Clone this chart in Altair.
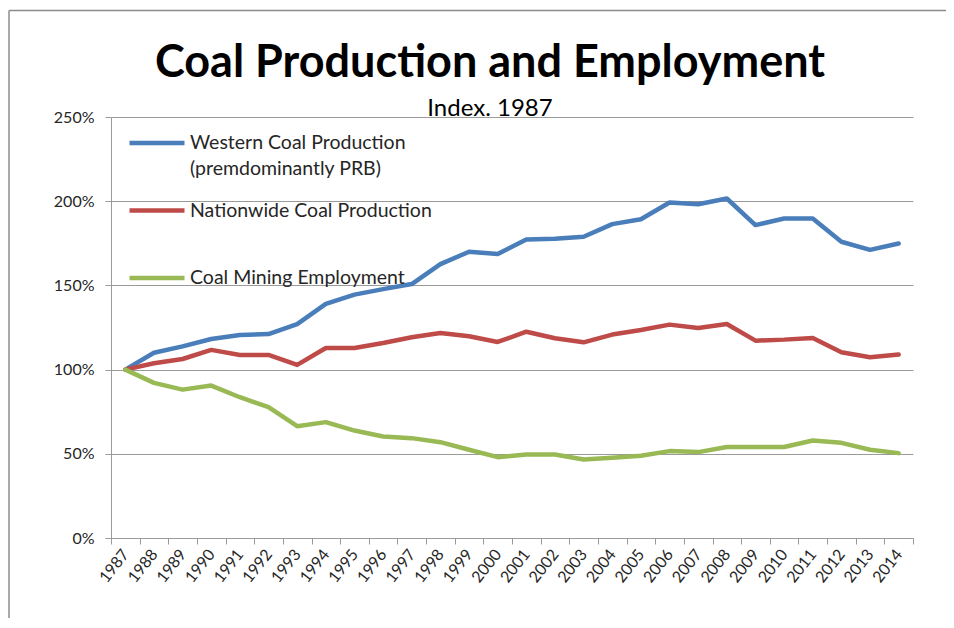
import altair as alt
import pandas as pd

years = [str(y) for y in range(1987, 2015)]
western = [100, 110, 113.8, 118.2, 120.6, 121.1, 127, 139, 144.5, 147.8, 150.8, 162.6, 170, 168.6,
           177.3, 177.7, 178.9, 186.4, 189.3, 199.2, 198.2, 201.6, 185.8, 189.7, 189.7, 175.9, 171.1, 174.9]
nationwide = [100, 103.8, 106.3, 111.7, 108.7, 108.7, 102.8, 112.8, 112.8, 115.8, 119.2, 121.7, 119.8, 116.4,
              122.5, 118.6, 116.2, 120.8, 123.5, 126.7, 124.7, 127.1, 117.2, 117.8, 118.8, 110.3, 107.3, 108.9]
employment = [100, 92.1, 88.1, 90.5, 83.6, 77.7, 66.4, 68.8, 63.8, 60.3, 59.3, 56.9, 52.4, 48,
              49.6, 49.6, 46.6, 47.6, 48.8, 51.6, 51, 54, 54, 54, 57.9, 56.5, 52.4, 50.4]
series_names = ["Western Coal Production (premdominantly PRB)", "Nationwide Coal Production", "Coal Mining Employment"]
series_colors = ["#4A7EBB", "#BE4B48", "#98B954"]
y_ticks = [0, 50, 100, 150, 200, 250]

rows = []
for name, vals in zip(series_names, [western, nationwide, employment]):
    for yr, v in zip(years, vals):
        rows.append({"year": yr, "value": v, "series": name})
df = pd.DataFrame(rows)

GRAY = "#9a9a9a"
TXT = "#262626"

label_expr = ("indexof(datum.label, ' (') > 0 ? "
              "[slice(datum.label, 0, indexof(datum.label, ' (')), slice(datum.label, indexof(datum.label, ' (') + 1)] "
              ": [datum.label, '']")

lines = alt.Chart(df).mark_line(strokeWidth=4.5, strokeJoin="round", strokeCap="round").encode(
    x=alt.X("year:O", bandPosition=0.5,
            scale=alt.Scale(type="band", paddingInner=0, paddingOuter=0),
            axis=alt.Axis(title=None, tickBand="extent", labelAngle=-52, labelAlign="right",
                          labelBaseline="middle", labelFont="Lato", labelFontSize=16, labelColor=TXT,
                          tickColor=GRAY, tickSize=6, domainColor=GRAY, grid=False, labelPadding=7)),
    y=alt.Y("value:Q", scale=alt.Scale(domain=[0, 250], nice=False),
            axis=alt.Axis(title=None, values=y_ticks, labelExpr="datum.value + '%'", grid=True,
                          gridColor=GRAY, tickColor=GRAY, tickSize=6, domainColor=GRAY,
                          labelFont="Lato", labelFontSize=16, labelColor=TXT, labelPadding=11)),
    color=alt.Color("series:N", sort=series_names,
                    scale=alt.Scale(domain=series_names, range=series_colors),
                    legend=alt.Legend(orient="none", legendX=16, legendY=-4, title=None,
                                      symbolType="stroke", symbolSize=3025, symbolStrokeWidth=4.5,
                                      labelFont="Lato", labelFontSize=19.5, labelColor=TXT,
                                      labelOffset=3, rowPadding=1.5, padding=0, labelLimit=400,
                                      labelExpr=label_expr, direction="vertical")),
)

frame_df = pd.DataFrame({"k": [0]})
top_border = alt.Chart(frame_df).mark_rule(color="#8c8c8c", strokeWidth=1.5).encode(
    x=alt.value(-102), x2=alt.value(900), y=alt.value(-106.5), y2=alt.value(-106.5))
left_border = alt.Chart(frame_df).mark_rule(color="#8c8c8c", strokeWidth=1.5).encode(
    x=alt.value(-102), x2=alt.value(-102), y=alt.value(-106.5), y2=alt.value(600))

chart = alt.layer(top_border, left_border, lines).properties(
    width=802, height=421,
    title=alt.TitleParams("Coal Production and Employment", subtitle="Index. 1987",
                          font="Lato", fontSize=45, fontWeight="bold", color="black",
                          subtitleFont="Lato", subtitleFontSize=24, subtitleColor="black",
                          anchor="middle", frame="group", dx=-22, offset=-111, subtitlePadding=11),
    autosize=alt.AutoSizeParams(type="none"),
    padding={"left": 103, "top": 109, "right": 33, "bottom": 80},
).configure(style={"guide-label": {"lineHeight": 26}}).configure_view(strokeWidth=0)

chart.save("out.html", embed_options={"renderer": "svg", "actions": False})
